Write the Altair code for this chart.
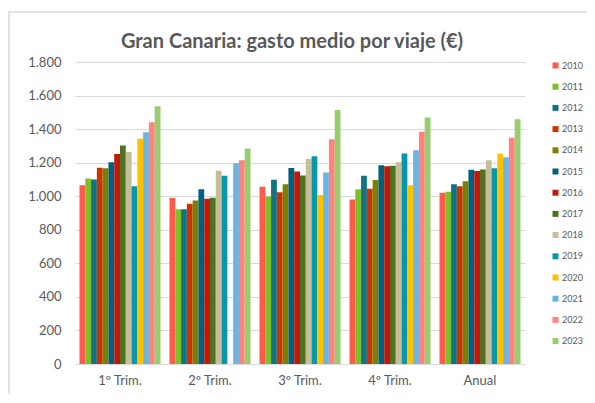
import altair as alt
import pandas as pd

title_text = "Gran Canaria: gasto medio por viaje (€)"
periods = ["1º Trim.", "2º Trim.", "3º Trim.", "4º Trim.", "Anual"]
years = [str(y) for y in range(2010, 2024)]

v2010 = [1065, 989, 1057, 981, 1021]
v2011 = [1106, 923, 999, 1041, 1027]
v2012 = [1100, 923, 1098, 1122, 1071]
v2013 = [1170, 955, 1023, 1045, 1059]
v2014 = [1166, 975, 1071, 1096, 1089]
v2015 = [1202, 1041, 1168, 1184, 1158]
v2016 = [1252, 985, 1148, 1178, 1150]
v2017 = [1303, 991, 1124, 1182, 1160]
v2018 = [1264, 1152, 1222, 1202, 1214]
v2019 = [1059, 1122, 1238, 1254, 1166]
v2020 = [1343, None, 1007, 1065, 1254]
v2021 = [1381, 1196, 1142, 1274, 1232]
v2022 = [1441, 1214, 1339, 1385, 1349]
v2023 = [1536, 1284, 1514, 1469, 1459]

series = [v2010, v2011, v2012, v2013, v2014, v2015, v2016, v2017,
          v2018, v2019, v2020, v2021, v2022, v2023]

colors = ["#FF5B46", "#7DBE2B", "#0F7384", "#CC3300", "#7B8000", "#00607F",
          "#C0180C", "#4F7321", "#C7BD98", "#0897A8", "#FFC000", "#6BB5E3",
          "#FF837A", "#99CC6E"]

rows = []
for y, vals in zip(years, series):
    for p, v in zip(periods, vals):
        if v is not None:
            rows.append({"periodo": p, "año": y, "gasto": v})
df = pd.DataFrame(rows)

FONT = "Lato"
GRAY = "#595959"

bars = alt.Chart(df).mark_bar().encode(
    x=alt.X("periodo:N", sort=periods,
            scale=alt.Scale(domain=periods, paddingInner=0.1, paddingOuter=0.05),
            axis=alt.Axis(title=None, labelAngle=0, labelFontSize=13,
                          labelColor=GRAY, labelFont=FONT, ticks=False,
                          domainColor="#d9d9d9", labelPadding=10)),
    xOffset=alt.XOffset("año:N", scale=alt.Scale(domain=years, paddingInner=0, paddingOuter=0)),
    y=alt.Y("gasto:Q",
            scale=alt.Scale(domain=[0, 1800]),
            axis=alt.Axis(title=None, values=list(range(0, 1801, 200)),
                          labelExpr="replace(format(datum.value, ','), ',', '.')",
                          labelFontSize=13, labelColor=GRAY, labelFont=FONT,
                          ticks=False, domain=False, gridColor="#d9d9d9",
                          labelPadding=14)),
    color=alt.Color("año:N",
                    scale=alt.Scale(domain=years, range=colors),
                    legend=alt.Legend(title=None, orient="none", legendX=476, legendY=-1,
                                      symbolType="square", symbolSize=36,
                                      symbolStrokeWidth=0,
                                      labelFontSize=9, labelColor=GRAY,
                                      labelFont=FONT, rowPadding=11.2,
                                      labelOffset=2)),
)

frame_df = pd.DataFrame({"k": [0]})
frame = alt.Chart(frame_df).mark_rect(fill=None, stroke="#d9d9d9", strokeWidth=1.5).encode(
    x=alt.value(-66), x2=alt.value(516), y=alt.value(-50), y2=alt.value(360)
)

title_df = pd.DataFrame({"t": [title_text]})
title = alt.Chart(title_df).mark_text(
    font=FONT, fontSize=20, fontWeight="bold", color=GRAY,
    align="center", baseline="middle"
).encode(text="t:N", x=alt.value(217), y=alt.value(-20))

chart = alt.layer(frame, title, bars).properties(
    width=450, height=302,
    padding={"left": 67, "top": 54, "right": 62, "bottom": 30},
    autosize=alt.AutoSizeParams(type="none"),
).configure_view(stroke=None)

chart.save("out.html", embed_options={"renderer": "svg", "actions": False})
